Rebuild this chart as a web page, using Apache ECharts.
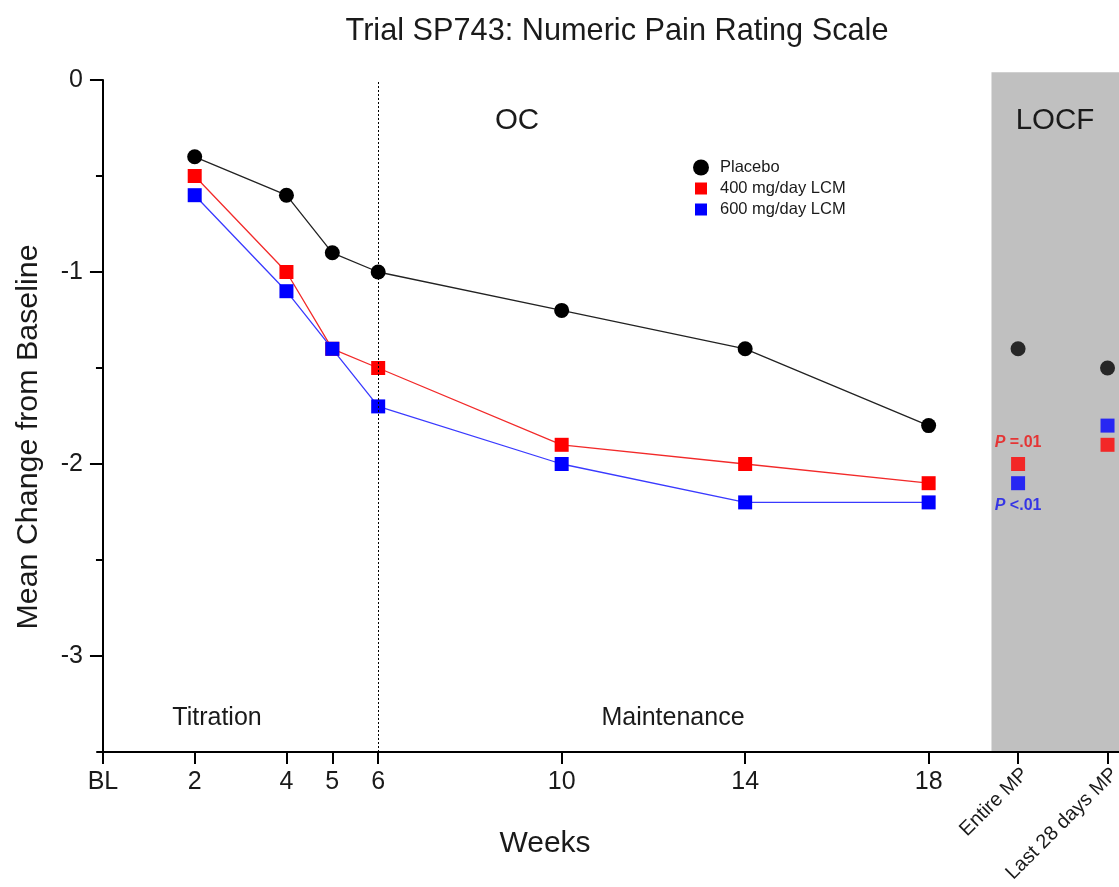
<!DOCTYPE html>
<html><head><meta charset="utf-8">
<script src="https://cdn.jsdelivr.net/npm/echarts@6/dist/echarts.min.js"></script>
<style>html,body{margin:0;padding:0;background:#fff}#chart{width:1119px;height:887px}</style>
</head><body><div id="chart"></div>
<script>
// ---- data ----
const weeks = [2, 4, 5, 6, 10, 14, 18];
const placebo = [-0.4, -0.6, -0.9, -1.0, -1.2, -1.4, -1.8];
const lcm400 = [-0.5, -1.0, -1.4, -1.5, -1.9, -2.0, -2.1];
const lcm600 = [-0.6, -1.1, -1.4, -1.7, -2.0, -2.2, -2.2];
const locfPositions = [19.95, 21.9];
const locfTickLabels = ['Entire MP', 'Last 28 days MP'];
const placeboLOCF = [-1.4, -1.5];
const lcm400LOCF = [-2.0, -1.9];
const lcm600LOCF = [-2.1, -1.8];
const pLabel400 = ['P', ' =.01'];
const pLabel600 = ['P', ' <.01'];
const xTickValues = [0, 2, 4, 5, 6, 10, 14, 18];
const xTickLabels = ['BL', '2', '4', '5', '6', '10', '14', '18'];
const yTickValues = [0, -1, -2, -3];
const yMinorTickValues = [-0.5, -1.5, -2.5];
const seriesNames = ['Placebo', '400 mg/day LCM', '600 mg/day LCM'];
const phaseDivider = 6;
const locfZone = [19.37, 22.15, -3.5, 0.04];

const FONT = '"Liberation Sans", Arial, Helvetica, sans-serif';
const TXT = '#1a1a1a';
const X_MIN = -0.13, X_MAX = 22.15, Y_MIN = -3.5, Y_MAX = 0;

const chart = echarts.init(document.getElementById('chart'), null, {renderer: 'canvas'});

const pair = (xs, ys) => xs.map((x, i) => [x, ys[i]]);
const richP = (color) => ({
  i: {fontStyle: 'italic', fontWeight: 'bold', fontSize: 16, color: color, fontFamily: FONT},
  t: {fontWeight: 'bold', fontSize: 16, color: color, fontFamily: FONT}
});

const gridBox = {left: 97, right: 0, top: 80, bottom: 135, outerBoundsMode: 'none'};

const option = {
  backgroundColor: '#ffffff',
  animation: false,
  textStyle: {fontFamily: FONT},
  grid: [Object.assign({}, gridBox), Object.assign({}, gridBox)],
  legend: [
    {
      data: [{name: seriesNames[0], icon: 'circle'}],
      left: 688, top: 154, itemWidth: 16, itemHeight: 16,
      selectedMode: false,
      textStyle: {fontSize: 16.5, color: TXT, fontFamily: FONT, padding: [0, 0, 0, 6]}
    },
    {
      data: [{name: seriesNames[1], icon: 'rect'}, {name: seriesNames[2], icon: 'rect'}],
      orient: 'vertical', left: 690, top: 175, itemWidth: 12, itemHeight: 12, itemGap: 4,
      selectedMode: false,
      textStyle: {fontSize: 16.5, lineHeight: 14, color: TXT, fontFamily: FONT, padding: [0, 0, 0, 8]}
    }
  ],
  xAxis: [
    {
      type: 'value', gridIndex: 0, min: X_MIN, max: X_MAX,
      axisLine: {show: true, onZero: false, lineStyle: {color: '#000', width: 2}},
      axisTick: {show: true, customValues: xTickValues, length: 12, lineStyle: {color: '#000', width: 2}},
      axisLabel: {
        customValues: xTickValues, fontSize: 25, color: TXT, fontFamily: FONT, margin: 18,
        formatter: (v) => { const k = xTickValues.indexOf(v); return k >= 0 ? xTickLabels[k] : ''; }
      },
      splitLine: {show: false}
    },
    {
      type: 'value', gridIndex: 1, min: X_MIN, max: X_MAX,
      axisLine: {show: false, onZero: false},
      axisTick: {show: true, customValues: locfPositions, length: 12, lineStyle: {color: '#000', width: 2}},
      axisLabel: {
        customValues: locfPositions, rotate: 45, fontSize: 20, color: TXT, fontFamily: FONT, margin: 12,
        verticalAlign: 'top',
        formatter: (v) => { const k = locfPositions.indexOf(v); return k >= 0 ? locfTickLabels[k] : ''; }
      },
      splitLine: {show: false}
    }
  ],
  yAxis: [
    {
      type: 'value', gridIndex: 0, min: Y_MIN, max: Y_MAX,
      axisLine: {show: true, onZero: true, lineStyle: {color: '#000', width: 2}},
      axisTick: {show: true, customValues: yTickValues, length: 13, lineStyle: {color: '#000', width: 2}},
      axisLabel: {customValues: yTickValues, fontSize: 25, color: TXT, fontFamily: FONT, margin: 14},
      splitLine: {show: false}
    },
    {
      type: 'value', gridIndex: 1, min: Y_MIN, max: Y_MAX,
      axisLine: {show: false, onZero: true},
      axisTick: {show: true, customValues: yMinorTickValues, length: 7, lineStyle: {color: '#000', width: 2}},
      axisLabel: {show: false},
      splitLine: {show: false}
    }
  ],
  graphic: [
    {type: 'text', z: 100, style: {text: 'Trial SP743: Numeric Pain Rating Scale', x: 617, y: 32, align: 'center', verticalAlign: 'middle', font: '30.7px ' + FONT, fill: TXT}},
    {type: 'text', z: 100, rotation: Math.PI / 2, x: 29, y: 437, style: {text: 'Mean Change from Baseline', x: 0, y: 0, align: 'center', verticalAlign: 'middle', font: '30.4px ' + FONT, fill: TXT}},
    {type: 'text', z: 100, style: {text: 'Weeks', x: 545, y: 844, align: 'center', verticalAlign: 'middle', font: '30px ' + FONT, fill: TXT}},
    {type: 'text', z: 100, style: {text: 'OC', x: 517, y: 121, align: 'center', verticalAlign: 'middle', font: '29.5px ' + FONT, fill: TXT}},
    {type: 'text', z: 100, style: {text: 'LOCF', x: 1055, y: 121, align: 'center', verticalAlign: 'middle', font: '29.5px ' + FONT, fill: TXT}},
    {type: 'text', z: 100, style: {text: 'Titration', x: 217, y: 718, align: 'center', verticalAlign: 'middle', font: '25px ' + FONT, fill: TXT}},
    {type: 'text', z: 100, style: {text: 'Maintenance', x: 673, y: 718, align: 'center', verticalAlign: 'middle', font: '25px ' + FONT, fill: TXT}}
  ],
  series: [
    {
      type: 'custom', name: 'LOCF zone', xAxisIndex: 0, yAxisIndex: 0, silent: true, z: -1,
      clip: false,
      renderItem: (params, api) => {
        const p0 = api.coord([api.value(0), api.value(3)]);
        const p1 = api.coord([api.value(1), api.value(2)]);
        return {type: 'rect', shape: {x: p0[0], y: p0[1], width: p1[0] - p0[0], height: p1[1] - p0[1]}, style: {fill: '#c0c0c0'}};
      },
      data: [locfZone]
    },
    {
      type: 'line', name: seriesNames[0], xAxisIndex: 0, yAxisIndex: 0,
      data: pair(weeks, placebo),
      symbol: 'circle', symbolSize: 15,
      itemStyle: {color: '#000000'},
      lineStyle: {color: '#222222', width: 1.3},
      markLine: {
        silent: true, symbol: ['none', 'none'], label: {show: false},
        lineStyle: {color: '#000', width: 1, type: [2, 2]},
        data: [{xAxis: phaseDivider}]
      }
    },
    {
      type: 'line', name: seriesNames[1], xAxisIndex: 0, yAxisIndex: 0,
      data: pair(weeks, lcm400),
      symbol: 'rect', symbolSize: 14,
      itemStyle: {color: '#ff0000'},
      lineStyle: {color: '#f22a2a', width: 1.3}
    },
    {
      type: 'line', name: seriesNames[2], xAxisIndex: 0, yAxisIndex: 0,
      data: pair(weeks, lcm600),
      symbol: 'rect', symbolSize: 14,
      itemStyle: {color: '#0000ff'},
      lineStyle: {color: '#3a3aff', width: 1.3}
    },
    {
      type: 'scatter', name: seriesNames[0], xAxisIndex: 0, yAxisIndex: 0,
      data: pair(locfPositions, placeboLOCF),
      symbol: 'circle', symbolSize: 15, itemStyle: {color: '#000000'}
    },
    {
      type: 'scatter', name: seriesNames[1], xAxisIndex: 0, yAxisIndex: 0,
      data: pair(locfPositions, lcm400LOCF).map((v, i) => i === 0 ? {
        value: v,
        label: {show: true, position: 'top', distance: 6, formatter: '{i|' + pLabel400[0] + '}{t|' + pLabel400[1] + '}', rich: richP('#ee1111')}
      } : v),
      symbol: 'rect', symbolSize: 14, itemStyle: {color: '#ff0000'}
    },
    {
      type: 'scatter', name: seriesNames[2], xAxisIndex: 0, yAxisIndex: 0,
      data: pair(locfPositions, lcm600LOCF).map((v, i) => i === 0 ? {
        value: v,
        label: {show: true, position: 'bottom', distance: 7, formatter: '{i|' + pLabel600[0] + '}{t|' + pLabel600[1] + '}', rich: richP('#1111ee')}
      } : v),
      symbol: 'rect', symbolSize: 14, itemStyle: {color: '#0000ff'}
    }
  ]
};
chart.setOption(option);
</script>
</body></html>
